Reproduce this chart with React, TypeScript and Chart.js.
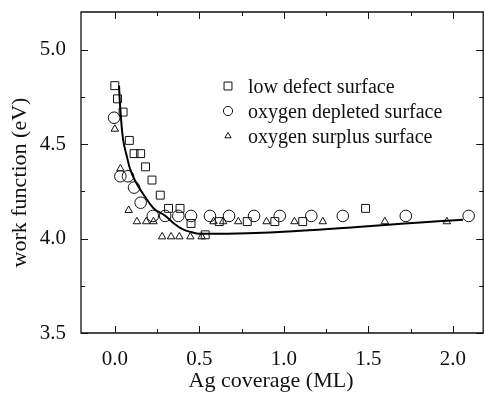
import React, { useEffect, useRef } from "react";
import { Chart, registerables } from "chart.js";
import { drawPoint } from "chart.js/helpers";

Chart.register(...registerables);

// ---- data ----
const lowDefectX = [0.0, 0.016, 0.049, 0.086, 0.114, 0.153, 0.182, 0.22, 0.269, 0.318, 0.386, 0.451, 0.535, 0.618, 0.784, 0.947, 1.112, 1.484];
const lowDefectY = [4.81, 4.74, 4.67, 4.52, 4.45, 4.45, 4.38, 4.31, 4.23, 4.16, 4.16, 4.08, 4.02, 4.09, 4.09, 4.09, 4.09, 4.16];

const oxDepletedX = [-0.004, 0.033, 0.078, 0.114, 0.153, 0.225, 0.298, 0.376, 0.451, 0.563, 0.676, 0.824, 0.976, 1.163, 1.349, 1.722, 2.094];
const oxDepletedY = [4.64, 4.33, 4.33, 4.27, 4.19, 4.12, 4.12, 4.12, 4.12, 4.12, 4.12, 4.12, 4.12, 4.12, 4.12, 4.12, 4.12];

const oxSurplusX = [0.0, 0.033, 0.082, 0.131, 0.186, 0.229, 0.28, 0.333, 0.382, 0.447, 0.514, 0.584, 0.641, 0.731, 0.898, 1.063, 1.231, 1.598, 1.965];
const oxSurplusY = [4.58, 4.37, 4.15, 4.09, 4.09, 4.09, 4.01, 4.01, 4.01, 4.01, 4.01, 4.09, 4.09, 4.09, 4.09, 4.09, 4.09, 4.09, 4.09];

const fitX = [0.025, 0.03, 0.035, 0.04, 0.05, 0.07, 0.09, 0.13, 0.18, 0.23, 0.3, 0.35, 0.4, 0.45, 0.5, 0.55, 2.06];
const fitY = [4.81, 4.72, 4.66, 4.6, 4.52, 4.44, 4.37, 4.29, 4.22, 4.16, 4.12, 4.08, 4.05, 4.035, 4.025, 4.025, 4.1];

const seriesLabels = ["low defect surface", "oxygen depleted surface", "oxygen surplus surface"];
const xMajorTicks = [0, 0.5, 1.0, 1.5, 2.0];
const xMinorTicks = [0.25, 0.75, 1.25, 1.75];
const yMajorTicks = [3.5, 4.0, 4.5, 5.0];
const yMinorTicks = [3.75, 4.25, 4.75];
const xTitle = "Ag coverage (ML)";
const yTitle = "work function (eV)";

const FONT = '"Liberation Serif", "Times New Roman", serif';
const INK = "#111";

const toPoints = (xs: number[], ys: number[]) => xs.map((x, i) => ({ x, y: ys[i] }));

const framePlugin = {
  id: "frameTicks",
  afterDraw(chart: any) {
    const { ctx, chartArea, scales } = chart;
    const { left, right, top, bottom } = chartArea;
    const xs = scales.x;
    const ys = scales.y;
    ctx.save();
    ctx.strokeStyle = INK;
    ctx.lineWidth = 1.3;
    ctx.beginPath();
    ctx.rect(left, top, right - left, bottom - top);
    ctx.stroke();

    ctx.lineWidth = 1;
    const hTick = (v: number, len: number) => {
      const p = Math.round(xs.getPixelForValue(v)) + 0.5;
      ctx.moveTo(p, bottom);
      ctx.lineTo(p, bottom - len);
      ctx.moveTo(p, top);
      ctx.lineTo(p, top + len);
    };
    const vTick = (v: number, len: number) => {
      const p = Math.round(ys.getPixelForValue(v)) + 0.5;
      ctx.moveTo(left, p);
      ctx.lineTo(left + len, p);
      ctx.moveTo(right, p);
      ctx.lineTo(right - len, p);
    };
    ctx.beginPath();
    xMajorTicks.forEach((v) => hTick(v, 7));
    xMinorTicks.forEach((v) => hTick(v, 4));
    yMajorTicks.forEach((v) => vTick(v, 7));
    yMinorTicks.forEach((v) => vTick(v, 4));
    ctx.stroke();

    // axis titles
    ctx.fillStyle = INK;
    ctx.font = `22px ${FONT}`;
    ctx.textAlign = "center";
    ctx.textBaseline = "alphabetic";
    ctx.fillText(xTitle, 271, 386.5);
    ctx.save();
    ctx.translate(26, 182.5);
    ctx.rotate(-Math.PI / 2);
    ctx.fillText(yTitle, 0, 0);
    ctx.restore();

    // legend
    const legendRows = [
      { y: 86, r: 5.6 },
      { y: 111, r: 4.6 },
      { y: 136, r: 3.6 },
    ];
    ctx.font = `20px ${FONT}`;
    ctx.textAlign = "left";
    chart.data.datasets.slice(1).forEach((ds: any, i: number) => {
      const row = legendRows[i];
      ctx.strokeStyle = INK;
      ctx.fillStyle = "rgba(0,0,0,0)";
      ctx.lineWidth = 1;
      drawPoint(ctx, { pointStyle: ds.pointStyle, radius: row.r, rotation: 0, borderWidth: 1 } as any, 228, row.y);
      ctx.fillStyle = INK;
      ctx.fillText(ds.label, 248, row.y + 7);
    });
    ctx.restore();
  },
};

const zeroPad = (s: any) => {
  s.paddingLeft = 0;
  s.paddingRight = 0;
  s.paddingTop = 0;
  s.paddingBottom = 0;
};

export default function App() {
  const ref = useRef<HTMLCanvasElement>(null);
  useEffect(() => {
    const markerCommon = {
      borderColor: INK,
      backgroundColor: "rgba(0,0,0,0)",
      borderWidth: 1,
      pointBorderWidth: 1,
      showLine: false,
    };
    const chart = new Chart(ref.current as HTMLCanvasElement, {
      type: "scatter",
      data: {
        datasets: [
          {
            label: "fit",
            data: toPoints(fitX, fitY),
            showLine: true,
            borderColor: "#000",
            borderWidth: 2,
            pointRadius: 0,
            cubicInterpolationMode: "monotone",
            fill: false,
          } as any,
          { ...markerCommon, label: seriesLabels[0], data: toPoints(lowDefectX, lowDefectY), pointStyle: "rect", pointRadius: 5.6 },
          { ...markerCommon, label: seriesLabels[1], data: toPoints(oxDepletedX, oxDepletedY), pointStyle: "circle", pointRadius: 5.8 },
          { ...markerCommon, label: seriesLabels[2], data: toPoints(oxSurplusX, oxSurplusY), pointStyle: "triangle", pointRadius: 4.3 },
        ],
      },
      options: {
        responsive: false,
        animation: false,
        devicePixelRatio: 1,
        layout: { padding: { top: 12, right: 4, left: 0, bottom: 0 } },
        plugins: { legend: { display: false }, tooltip: { enabled: false } },
        scales: {
          x: {
            type: "linear",
            min: -0.2,
            max: 2.18,
            grid: { display: false },
            border: { display: false },
            ticks: {
              includeBounds: false,
              padding: 6,
              color: INK,
              font: { family: FONT, size: 21 },
              maxRotation: 0,
              callback: (v: any) => Number(v).toFixed(1),
            },
            afterBuildTicks: (s: any) => {
              s.ticks = xMajorTicks.map((value) => ({ value }));
            },
            afterFit: (s: any) => {
              s.height = 60;
              zeroPad(s);
            },
          },
          y: {
            type: "linear",
            min: 3.5,
            max: 5.2,
            grid: { display: false },
            border: { display: false },
            ticks: {
              includeBounds: false,
              padding: 7,
              color: INK,
              font: { family: FONT, size: 21 },
              callback: (v: any) => Number(v).toFixed(1),
            },
            afterBuildTicks: (s: any) => {
              s.ticks = yMajorTicks.map((value) => ({ value }));
            },
            afterFit: (s: any) => {
              s.width = 81;
              zeroPad(s);
            },
          },
        },
      } as any,
      plugins: [framePlugin],
    });
    return () => chart.destroy();
  }, []);
  return (
    <div style={{ position: "fixed", left: 0, top: 0, width: 485, height: 393, overflow: "hidden", background: "#fff" }}>
      <canvas ref={ref} width={490} height={393} style={{ display: "block", width: 490, height: 393 }} />
    </div>
  );
}
